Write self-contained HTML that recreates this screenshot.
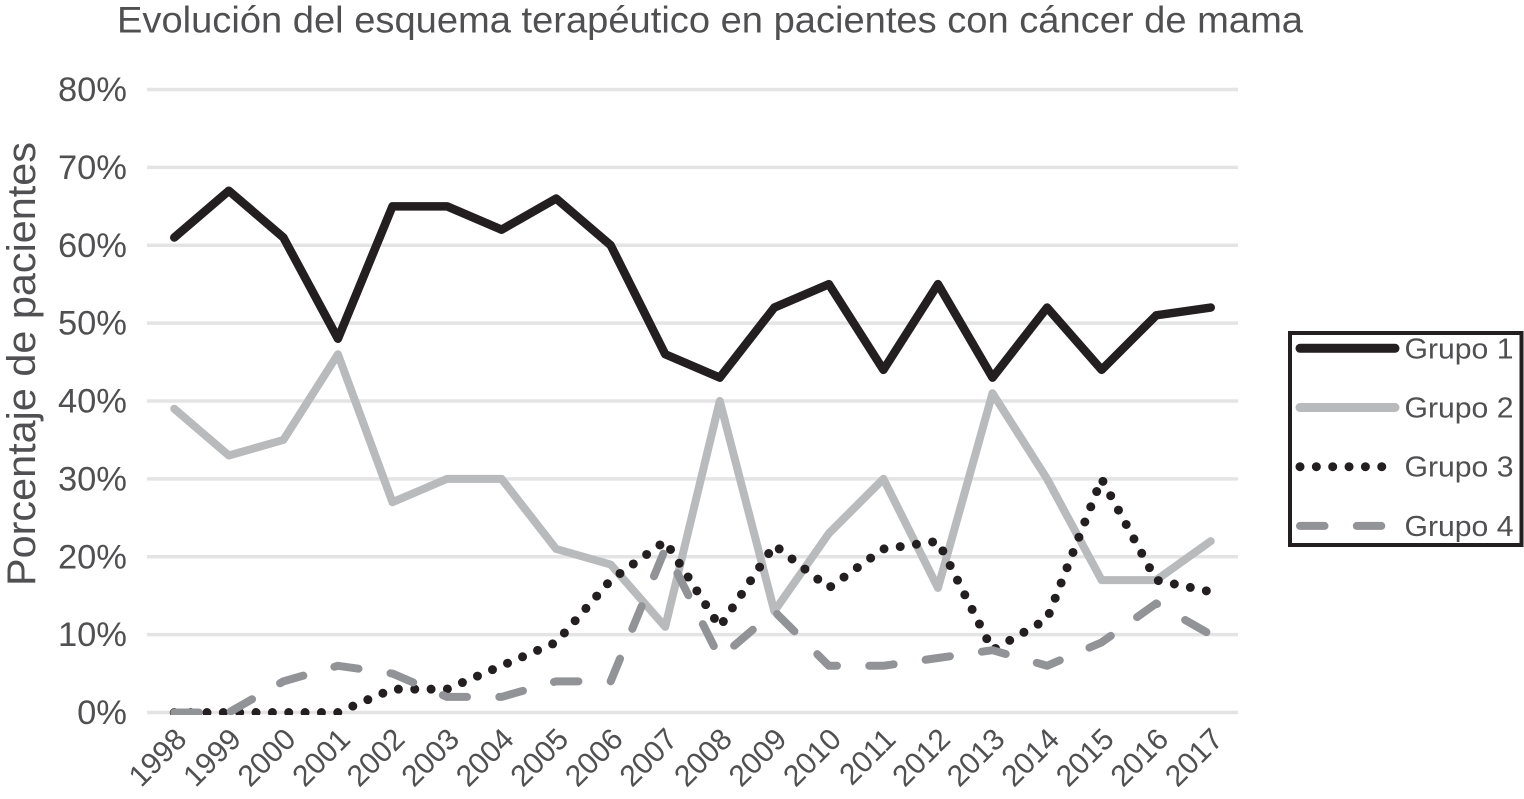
<!DOCTYPE html>
<html lang="es">
<head>
<meta charset="utf-8">
<title>Evolución del esquema terapéutico</title>
<style>
html,body{margin:0;padding:0;background:#fff;}
svg{display:block;font-family:"Liberation Sans",sans-serif;}
</style>
</head>
<body>
<svg id="chart" width="1524" height="799" viewBox="0 0 1524 799" xmlns="http://www.w3.org/2000/svg"></svg>
<script>
const categories = ['1998','1999','2000','2001','2002','2003','2004','2005','2006','2007','2008','2009','2010','2011','2012','2013','2014','2015','2016','2017'];
const grupo1 = [61,67,61,48,65,65,62,66,60,46,43,52,55,44,55,43,52,44,51,52];
const grupo2 = [39,33,35,46,27,30,30,21,19,11,40,13,23,30,16,41,30,17,17,22];
const grupo3 = [0,0,0,0,3,3,6,9,17,22,11,21.5,16,21,22,8,12,30,17,15.5];
const grupo4 = [0,0,4,6,5,2,2,4,4,21,7,13,6,6,7,8,6,9,14,10];
const yTicks = [0,10,20,30,40,50,60,70,80];
const titleText = 'Evolución del esquema terapéutico en pacientes con cáncer de mama';
const yAxisTitle = 'Porcentaje de pacientes';
const seriesNames = ['Grupo 1','Grupo 2','Grupo 3','Grupo 4'];

const NS = 'http://www.w3.org/2000/svg';
const svg = document.getElementById('chart');
const plotLeft = 147, plotRight = 1238, plotTop = 89.5, plotBottom = 712.5, yMax = 80;
const textColor = '#505052';
const step = (plotRight - plotLeft) / categories.length;
function xScale(i){ return plotLeft + step * (i + 0.5); }
function yScale(v){ return plotBottom - (v / yMax) * (plotBottom - plotTop); }
function make(tag, attrs, text, parent){
  const el = document.createElementNS(NS, tag);
  for (const k in attrs) el.setAttribute(k, attrs[k]);
  if (text !== undefined) el.textContent = text;
  (parent || svg).appendChild(el);
  return el;
}

const clip = make('clipPath', {id:'plot-clip'});
make('rect', {x:0, y:0, width:1524, height:715}, undefined, clip);

const title = make('text', {x:117, y:32.5, 'font-size':37.5, fill:textColor, textLength:1186, lengthAdjust:'spacingAndGlyphs'}, titleText);



const yTitle = make('text', {x:0, y:0, transform:'translate(35,364) rotate(-90)', 'text-anchor':'middle', 'font-size':40, fill:textColor, textLength:444, lengthAdjust:'spacingAndGlyphs'}, yAxisTitle);



yTicks.forEach(function(t){
  const line = make('line', {x1:plotLeft, x2:plotRight, y1:yScale(t), y2:yScale(t), stroke:'#e4e4e5', 'stroke-width':3.5});
  
  
  const label = make('text', {x:127, y:yScale(t) + 11.5, 'text-anchor':'end', 'font-size':34.5, fill:textColor}, t + '%');
  
  
});

categories.forEach(function(c, i){
  const label = make('text', {x:0, y:0, transform:'translate(' + (xScale(i) + 14) + ',741) rotate(-45)', 'text-anchor':'end', 'font-size':30, fill:textColor}, c);
  
  
});

const styles = [
  {stroke:'#231f20', width:8.5, dash:null},
  {stroke:'#b9babc', width:8, dash:null},
  {stroke:'#231f20', width:9, dash:'0 16.35'},
  {stroke:'#929396', width:8, dash:'24.5 32.3'}
];
const seriesData = [grupo1, grupo2, grupo3, grupo4];

[0,1,2,3].forEach(function(s){
  const pts = seriesData[s].map(function(v, i){ return xScale(i) + ',' + yScale(v); }).join(' ');
  const st = styles[s];
  const line = make('polyline', {points:pts, fill:'none', stroke:st.stroke, 'stroke-width':st.width, 'stroke-linejoin':'round', 'stroke-linecap':'round', 'clip-path':'url(#plot-clip)'});
  if (st.dash) line.setAttribute('stroke-dasharray', st.dash);
  
  
});

const legendBox = make('rect', {x:1290, y:333, width:231.5, height:212, fill:'#fff', stroke:'#231f20', 'stroke-width':4});



seriesNames.forEach(function(n, s){
  const y = 348.3 + s * 59.2;
  const st = styles[s];
  const key = make('line', {x1:1300, x2:1395, y1:y, y2:y, stroke:st.stroke, 'stroke-width':s < 2 ? 9 : st.width, 'stroke-linecap':'round'});
  if (st.dash) key.setAttribute('stroke-dasharray', st.dash);
  
  
  const label = make('text', {x:1404.5, y:y + 10, 'font-size':29, fill:textColor, textLength:109, lengthAdjust:'spacingAndGlyphs'}, n);
  
  
});
</script>
</body>
</html>
